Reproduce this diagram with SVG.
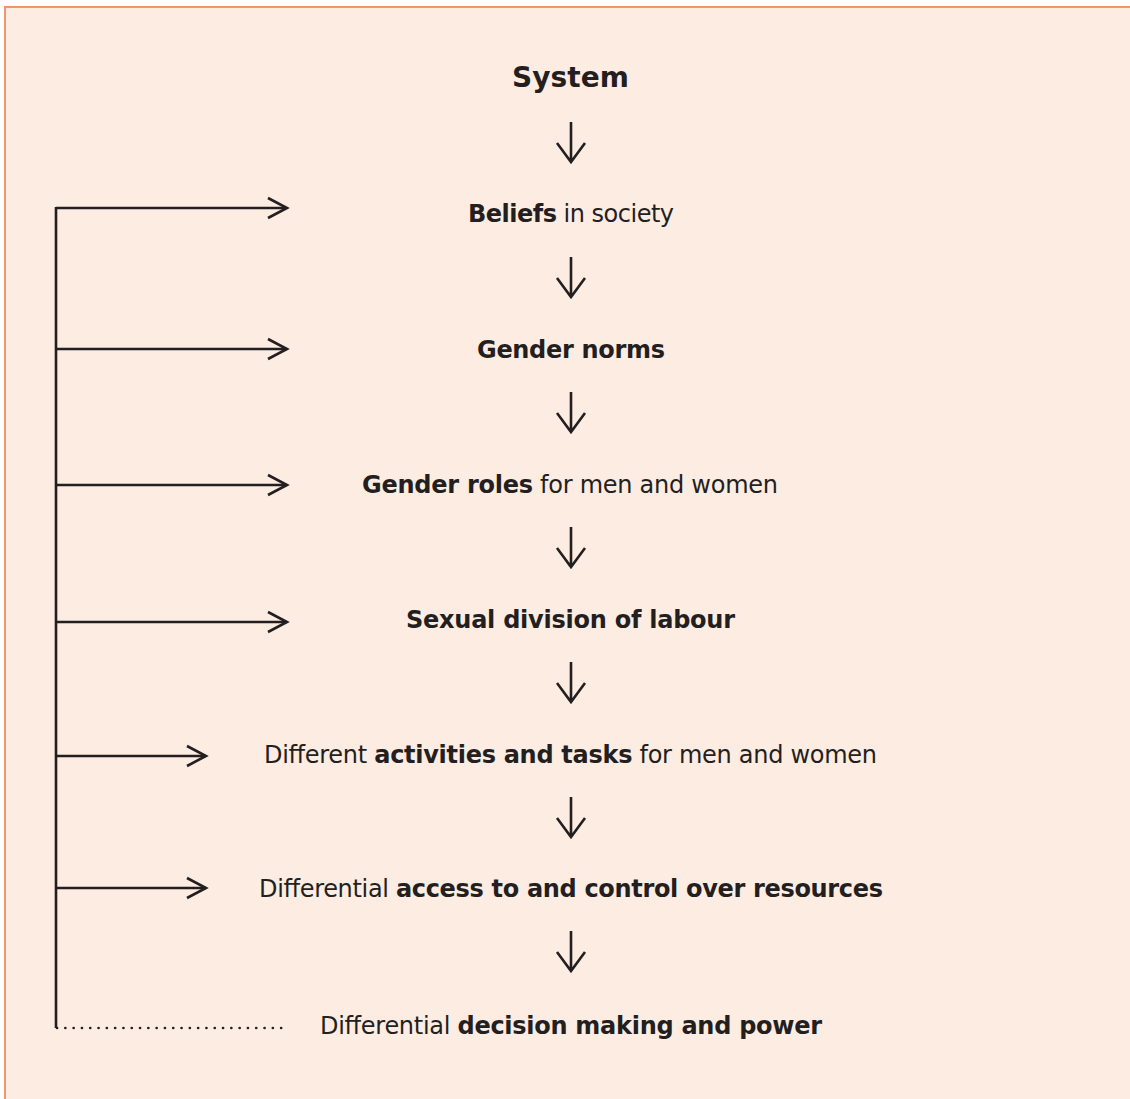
<svg xmlns="http://www.w3.org/2000/svg" width="1130" height="1099" viewBox="0 0 1130 1099">
<style>
.t{font-family:"DejaVu Sans","Liberation Sans",sans-serif;font-size:24px;fill:#231f20;text-anchor:middle}
.b{font-weight:bold}
.ln{stroke:#231f20;stroke-width:2.6;fill:none;stroke-linecap:butt}
.ah{stroke:#231f20;stroke-width:2.6;fill:none;stroke-linejoin:miter}
</style>
<defs>
<path id="down" class="ah" d="M0,0 V40 M-14,21 L0,40 L14,21"/>
</defs>
<rect x="5" y="7" width="1140" height="1110" fill="#fdece2" stroke="#f2956b" stroke-width="2"/>
<g id="connectors">
<path class="ln" d="M56,207 V1028"/>
<path class="ln" d="M56,208 H287"/>
<path class="ah" d="M268,198 L287,208 L268,218"/>
<path class="ln" d="M56,349 H287"/>
<path class="ah" d="M268,339 L287,349 L268,359"/>
<path class="ln" d="M56,485 H287"/>
<path class="ah" d="M268,475 L287,485 L268,495"/>
<path class="ln" d="M56,622 H287"/>
<path class="ah" d="M268,612 L287,622 L268,632"/>
<path class="ln" d="M56,756 H206"/>
<path class="ah" d="M187,746 L206,756 L187,766"/>
<path class="ln" d="M56,888 H206"/>
<path class="ah" d="M187,878 L206,888 L187,898"/>
<path d="M57,1028 H287" stroke="#231f20" stroke-width="2.6" stroke-dasharray="0.1 8.2" stroke-linecap="round" fill="none"/>
<use href="#down" x="571" y="122"/>
<use href="#down" x="571" y="257"/>
<use href="#down" x="571" y="392"/>
<use href="#down" x="571" y="527"/>
<use href="#down" x="571" y="662"/>
<use href="#down" x="571" y="797"/>
<use href="#down" x="571" y="931"/>
</g>
<g id="n-system"><text class="t b" x="570.5" y="87" style="font-size:28px" textLength="117">System</text></g>
<g id="n-beliefs"><text class="t" x="571" y="222" textLength="206"><tspan class="b">Beliefs</tspan> in society</text></g>
<g id="n-norms"><text class="t b" x="571" y="358" textLength="188">Gender norms</text></g>
<g id="n-roles"><text class="t" x="570" y="493" textLength="416"><tspan class="b">Gender roles</tspan> for men and women</text></g>
<g id="n-division"><text class="t b" x="570.5" y="628" textLength="329">Sexual division of labour</text></g>
<g id="n-activities"><text class="t" x="570.5" y="763" textLength="613">Different <tspan class="b">activities and tasks</tspan> for men and women</text></g>
<g id="n-access"><text class="t" x="571" y="897" textLength="624">Differential <tspan class="b">access to and control over resources</tspan></text></g>
<g id="n-decision"><text class="t" x="571" y="1034" textLength="502">Differential <tspan class="b">decision making and power</tspan></text></g>
</svg>
